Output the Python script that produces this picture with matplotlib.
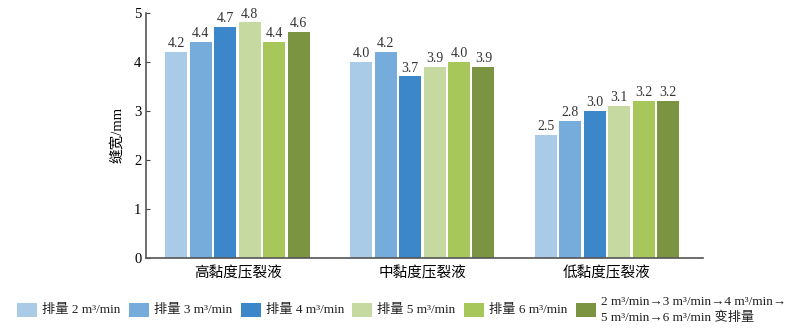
import numpy as np
import matplotlib.pyplot as plt
from matplotlib.patches import Rectangle

plt.rcParams['font.family'] = ['Liberation Serif', 'Noto Sans CJK SC']
plt.rcParams['axes.unicode_minus'] = False

# 数据
categories = ['高黏度压裂液', '中黏度压裂液', '低黏度压裂液']
series_labels = ['排量 2 m³/min', '排量 3 m³/min', '排量 4 m³/min',
                 '排量 5 m³/min', '排量 6 m³/min',
                 '2 m³/min→3 m³/min→4 m³/min→\n5 m³/min→6 m³/min 变排量']
q2 = [4.2, 4.0, 2.5]
q3 = [4.4, 4.2, 2.8]
q4 = [4.7, 3.7, 3.0]
q5 = [4.8, 3.9, 3.1]
q6 = [4.4, 4.0, 3.2]
q_var = [4.6, 3.9, 3.2]
series = [q2, q3, q4, q5, q6, q_var]
colors = ['#a9cbe8', '#76acdb', '#3b87c9', '#c5d9a1', '#a8c75a', '#7a9442']

W, H = 790, 333
fig = plt.figure(figsize=(W / 100, H / 100), dpi=100)
ax = fig.add_axes([0.185, 0.225, 0.705, 0.737])

x = np.arange(len(categories))
step = 0.1324
width = 0.119
for i, (vals, c) in enumerate(zip(series, colors)):
    pos = x + (i - 2.5) * step
    bars = ax.bar(pos, vals, width, color=c)
    for b, v in zip(bars, vals):
        ax.text(b.get_x() + b.get_width() / 2, v + 0.04, f'{v:.1f}',
                ha='center', va='bottom', fontsize=10, color='#333333')

ax.set_xlim(-0.495, 2.52)
ax.set_ylim(0, 5)
ax.set_yticks(range(6))
ax.set_xticks(x)
ax.set_xticklabels(categories, fontsize=10.5)
ax.tick_params(axis='x', length=0, pad=6)
ax.tick_params(axis='y', direction='in', length=3, labelsize=10.5, color='#444444')
ax.set_ylabel('缝宽/mm', fontsize=10.5, labelpad=7)
for s in ['top', 'right']:
    ax.spines[s].set_visible(False)
for s in ['left', 'bottom']:
    ax.spines[s].set_color('#555555')
    ax.spines[s].set_linewidth(1.2)

# 图例（手动排布）
for i, (c, lab) in enumerate(zip(colors, series_labels)):
    px = 17 + 111.8 * i
    fig.add_artist(Rectangle((px / W, 1 - 317 / H), 20 / W, 14 / H,
                             transform=fig.transFigure, color=c, lw=0))
    fig.text((px + 25) / W, 1 - 310 / H, lab, ha='left', va='center',
             fontsize=9.5, linespacing=1.35, color='#222222')

fig.savefig('out.png', dpi=100)
